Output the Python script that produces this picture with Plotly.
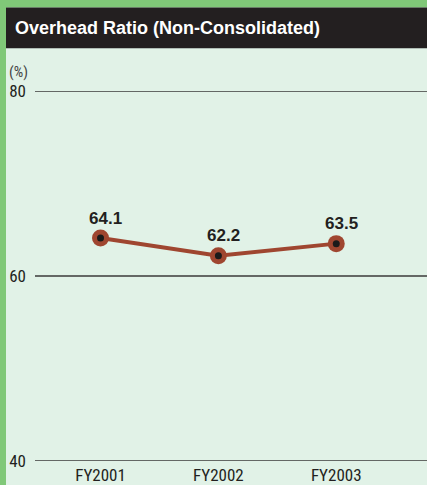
import plotly.graph_objects as go

categories = ["FY2001", "FY2002", "FY2003"]
values = [64.1, 62.2, 63.5]
y_ticks = [40, 60, 80]
title_text = "Overhead Ratio (Non-Consolidated)"
unit_text = "(%)"

W, H = 427, 485
BG = "#e1f2e7"
GREEN = "#80c878"
HEADER = "#231f20"
BROWN = "#9f4630"
NARROW = "Liberation Sans Narrow, Arial Narrow, Roboto Condensed, Liberation Sans, sans-serif"
PH = 372.0  # plot height in px
PW = 392.0  # plot width in px

xpos = list(range(len(categories)))

fig = go.Figure()
fig.add_trace(go.Scatter(
    x=xpos, y=values, mode="lines+markers",
    line=dict(color=BROWN, width=4),
    marker=dict(size=17, color=BROWN),
    cliponaxis=False, hoverinfo="skip", showlegend=False,
))
fig.add_trace(go.Scatter(
    x=xpos, y=values, mode="markers",
    marker=dict(size=7, color="#1a1a1a"),
    cliponaxis=False, hoverinfo="skip", showlegend=False,
))

for xi, v in zip(xpos, values):
    fig.add_annotation(
        x=xi, y=v, text=f"<b>{v:.1f}</b>", showarrow=False,
        xshift=5, yshift=20,
        font=dict(family="Liberation Sans, Arial, sans-serif", size=17, color="#231f20"),
    )

shapes = [
    # top green strip
    dict(type="rect", xref="paper", yref="paper", x0=-40/PW, x1=1.02,
         y0=1 + (91-7)/PH, y1=1 + 100/PH, fillcolor=GREEN, line_width=0),
    # left green strip
    dict(type="rect", xref="paper", yref="paper", x0=-40/PW, x1=-29/PW,
         y0=-30/PH, y1=1 + 100/PH, fillcolor=GREEN, line_width=0),
    # dark header
    dict(type="rect", xref="paper", yref="paper", x0=-29/PW, x1=1.02,
         y0=1 + (91-48)/PH, y1=1 + (91-7)/PH, fillcolor=HEADER, line_width=0),
]
for t in y_ticks:
    shapes.append(dict(type="line", xref="x domain", yref="y", x0=0, x1=1.02,
                       y0=t, y1=t, line=dict(color="#3a3a3a", width=1.4),
                       layer="below"))

fig.update_layout(
    width=W, height=H,
    margin=dict(l=35, r=0, t=91, b=22, pad=0),
    paper_bgcolor=BG, plot_bgcolor=BG,
    xaxis=dict(
        range=[-0.556, 2.77], tickvals=xpos, ticktext=categories,
        showgrid=False, zeroline=False, showline=False, ticks="",
        tickfont=dict(family=NARROW, size=17, color="#231f20"),
        ticklabelstandoff=2, fixedrange=True,
    ),
    yaxis=dict(
        range=[40, 80], tickvals=y_ticks,
        showgrid=False, zeroline=False, showline=False, ticks="",
        tickfont=dict(family=NARROW, size=17, color="#231f20"),
        ticklabelstandoff=8, fixedrange=True,
    ),
    shapes=shapes,
)
fig.add_annotation(
    xref="paper", yref="paper", x=-22/PW, y=1 + (91-28)/PH,
    xanchor="left", yanchor="middle", text=f"<b>{title_text}</b>", showarrow=False,
    font=dict(family="Liberation Sans, Arial, sans-serif", size=18, color="white"),
)
fig.add_annotation(
    xref="paper", yref="paper", x=-28/PW, y=1 + (91-72)/PH,
    xanchor="left", yanchor="middle", text=unit_text, showarrow=False,
    font=dict(family=NARROW, size=15, color="#444444"),
)
fig.write_html("out.html")
